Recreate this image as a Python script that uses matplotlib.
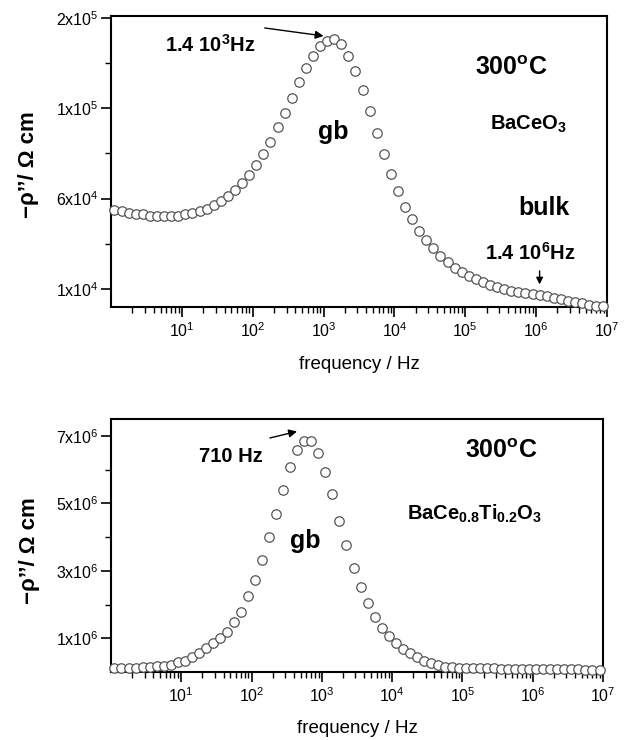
import matplotlib
matplotlib.use("Agg")
import matplotlib.pyplot as plt
from matplotlib.ticker import FixedLocator, LogLocator, NullFormatter

plt.rcParams.update({
    "font.family": ["Liberation Sans", "DejaVu Sans"],
    "mathtext.fontset": "custom",
    "mathtext.rm": "Liberation Sans",
    "mathtext.bf": "Liberation Sans:bold",
    "mathtext.it": "Liberation Sans:italic",
    "mathtext.default": "regular",
    "axes.linewidth": 1.5,
})

# measurement frequencies (Hz), 10 points per decade
freq = [1.12, 1.41, 1.78, 2.24, 2.82, 3.55, 4.47, 5.62, 7.08, 8.91,
        11.2, 14.1, 17.8, 22.4, 28.2, 35.5, 44.7, 56.2, 70.8, 89.1,
        112, 141, 178, 224, 282, 355, 447, 562, 708, 891,
        1.12e3, 1.41e3, 1.78e3, 2.24e3, 2.82e3, 3.55e3, 4.47e3, 5.62e3, 7.08e3, 8.91e3,
        1.12e4, 1.41e4, 1.78e4, 2.24e4, 2.82e4, 3.55e4, 4.47e4, 5.62e4, 7.08e4, 8.91e4,
        1.12e5, 1.41e5, 1.78e5, 2.24e5, 2.82e5, 3.55e5, 4.47e5, 5.62e5, 7.08e5, 8.91e5,
        1.12e6, 1.41e6, 1.78e6, 2.24e6, 2.82e6, 3.55e6, 4.47e6, 5.62e6, 7.08e6, 8.91e6]

# -rho'' for BaCeO3 (Ohm cm)
rho_baceo3 = [5.36e4, 5.31e4, 5.23e4, 5.17e4, 5.12e4, 5.06e4, 5.03e4, 5.03e4, 5.03e4, 5.06e4,
              5.12e4, 5.20e4, 5.31e4, 5.45e4, 5.64e4, 5.86e4, 6.14e4, 6.47e4, 6.86e4, 7.30e4,
              7.85e4, 8.46e4, 9.12e4, 9.95e4, 1.073e5, 1.156e5, 1.244e5, 1.322e5, 1.388e5, 1.443e5,
              1.471e5, 1.482e5, 1.454e5, 1.388e5, 1.305e5, 1.200e5, 1.084e5, 9.62e4, 8.46e4, 7.35e4,
              6.41e4, 5.53e4, 4.87e4, 4.20e4, 3.71e4, 3.26e4, 2.82e4, 2.49e4, 2.16e4, 1.94e4,
              1.71e4, 1.55e4, 1.38e4, 1.22e4, 1.11e4, 9950, 8850, 8300, 7740, 7470,
              6910, 6080, 5250, 4420, 3590, 2770, 2210, 1380, 830, 550]

# -rho'' for BaCe0.8Ti0.2O3 (Ohm cm)
rho_bacetio = [1.2e5, 1.1e5, 1.2e5, 1.2e5, 1.5e5, 1.5e5, 1.8e5, 1.8e5, 2.1e5, 2.96e5,
               3.26e5, 4.45e5, 5.63e5, 7.11e5, 8.60e5, 1.008e6, 1.186e6, 1.482e6, 1.779e6, 2.253e6,
               2.727e6, 3.320e6, 4.002e6, 4.684e6, 5.395e6, 6.077e6, 6.581e6, 6.848e6, 6.833e6, 6.492e6,
               5.929e6, 5.277e6, 4.476e6, 3.765e6, 3.083e6, 2.520e6, 2.045e6, 1.630e6, 1.304e6, 1.067e6,
               8.60e5, 6.82e5, 5.63e5, 4.45e5, 3.26e5, 2.67e5, 2.08e5, 1.48e5, 1.48e5, 1.19e5,
               1.15e5, 1.12e5, 1.10e5, 1.08e5, 1.05e5, 1.03e5, 1.00e5, 9.8e4, 9.5e4, 9.3e4,
               9.0e4, 8.8e4, 8.5e4, 8.2e4, 8.0e4, 7.7e4, 7.4e4, 7.0e4, 6.6e4, 6.2e4]

xticks = [1e1, 1e2, 1e3, 1e4, 1e5, 1e6, 1e7]
xticklabels = ["$10^{%d}$" % i for i in range(1, 8)]
yticks_top = [1e4, 6e4, 1.1e5, 1.6e5]
yticklabels_top = ["1x10$^4$", "6x10$^4$", "1x10$^5$", "2x10$^5$"]
yticks_bot = [1e6, 3e6, 5e6, 7e6]
yticklabels_bot = ["1x10$^6$", "3x10$^6$", "5x10$^6$", "7x10$^6$"]

fig = plt.figure(figsize=(6.26, 7.4), dpi=100)
ax1 = fig.add_axes([0.1773, 0.5851, 0.7923, 0.3932])
ax2 = fig.add_axes([0.1773, 0.0919, 0.7860, 0.3419])

mk = dict(linestyle="none", marker="o", ms=6.8, mfc="white", mec="#555555", mew=0.9, clip_on=False, zorder=3)


def style(ax, yticks, ylabels, yminor, ylim):
    ax.set_xscale("log")
    ax.set_xlim(1, 1e7)
    ax.set_ylim(*ylim)
    ax.set_xticks(xticks)
    ax.set_xticklabels(xticklabels)
    ax.xaxis.set_minor_locator(LogLocator(base=10, subs=range(2, 10), numticks=20))
    ax.xaxis.set_minor_formatter(NullFormatter())
    ax.set_yticks(yticks)
    ax.set_yticklabels(ylabels)
    ax.yaxis.set_minor_locator(FixedLocator(yminor))
    ax.tick_params(which="major", direction="out", length=7, width=1.2, labelsize=11.5, pad=3)
    ax.tick_params(which="minor", direction="out", length=4, width=1.0)
    ax.tick_params(axis="y", which="major", pad=2)
    ax.set_xlabel("frequency / Hz", fontsize=13.5)
    ax.set_ylabel("\u2212\u03c1\u2019\u2019/ \u03a9 cm", fontsize=16, fontweight="bold")


ax1.plot(freq, rho_baceo3, **mk)
style(ax1, yticks_top, yticklabels_top, [3.5e4, 8.5e4, 1.35e5], (0, 1.61e5))
ax1.xaxis.set_label_coords(0.5, -0.17)
ax1.yaxis.set_label_coords(-0.145, 0.49)

ax1.text(0.109, 0.876, "1.4 10$^{\\mathbf{3}}$Hz", transform=ax1.transAxes, fontsize=14.5, fontweight="bold")
ax1.annotate("", xy=(1.0e3, 1.5e5), xytext=(0.31, 0.959), textcoords="axes fraction",
             arrowprops=dict(arrowstyle="-|>", color="black", lw=1.0, mutation_scale=12, shrinkA=0, shrinkB=0))
ax1.text(0.734, 0.797, "300$^{\\mathbf{o}}$C", transform=ax1.transAxes, fontsize=18, fontweight="bold")
ax1.text(0.764, 0.608, "BaCeO$_{\\mathbf{3}}$", transform=ax1.transAxes, fontsize=14.5, fontweight="bold")
ax1.text(0.417, 0.577, "gb", transform=ax1.transAxes, fontsize=18, fontweight="bold")
ax1.text(0.821, 0.316, "bulk", transform=ax1.transAxes, fontsize=18, fontweight="bold")
ax1.text(0.754, 0.162, "1.4 10$^{\\mathbf{6}}$Hz", transform=ax1.transAxes, fontsize=14.5, fontweight="bold")
ax1.annotate("", xy=(1.12e6, 1.25e4), xytext=(1.12e6, 2.0e4),
             arrowprops=dict(arrowstyle="-|>", color="black", lw=1.0, mutation_scale=10, shrinkA=0, shrinkB=0))

ax2.plot(freq, rho_bacetio, **mk)
style(ax2, yticks_bot, yticklabels_bot, [2e6, 4e6, 6e6], (0, 7.5e6))
ax2.xaxis.set_label_coords(0.5, -0.19)
ax2.yaxis.set_label_coords(-0.145, 0.48)

ax2.text(0.179, 0.830, "710 Hz", transform=ax2.transAxes, fontsize=14.5, fontweight="bold")
ax2.annotate("", xy=(443, 7.13e6), xytext=(0.323, 0.925), textcoords="axes fraction",
             arrowprops=dict(arrowstyle="-|>", color="black", lw=1.0, mutation_scale=12, shrinkA=0, shrinkB=0))
ax2.text(0.72, 0.846, "300$^{\\mathbf{o}}$C", transform=ax2.transAxes, fontsize=18, fontweight="bold")
ax2.text(0.602, 0.601, "BaCe$_{\\mathbf{0.8}}$Ti$_{\\mathbf{0.2}}$O$_{\\mathbf{3}}$", transform=ax2.transAxes,
         fontsize=14.5, fontweight="bold")
ax2.text(0.364, 0.49, "gb", transform=ax2.transAxes, fontsize=18, fontweight="bold")

fig.savefig("out.png", dpi=100)
